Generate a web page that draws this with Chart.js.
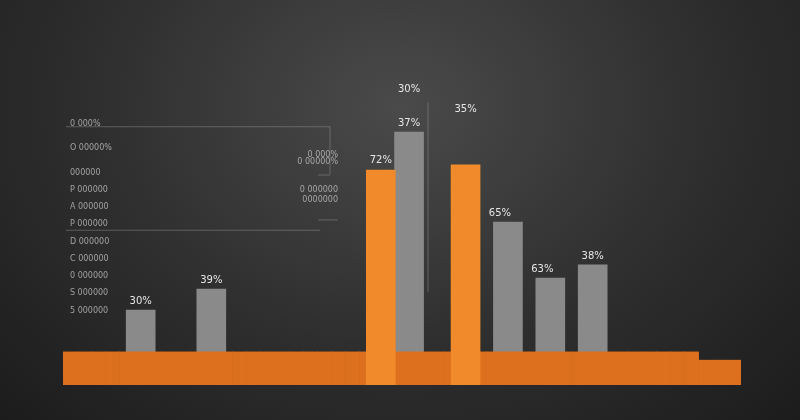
<!DOCTYPE html><html><head><meta charset="utf-8">
<script src="https://cdn.jsdelivr.net/npm/chart.js@4/dist/chart.umd.min.js"></script>
<style>html,body{margin:0;padding:0;width:800px;height:420px;overflow:hidden;background:radial-gradient(ellipse at 50% 25%,#4a4a4a 0%,#2e2e2e 55%,#1c1c1c 100%);}#w{position:absolute;left:0;top:0;width:800px;height:420px}</style>
</head><body><div id="w"><canvas id="c" width="800" height="420"></canvas></div>
<script>
const slots = Array.from({length:48},(_,i)=>'');
const baseValues = Array.from({length:48},(_,i)=> i>=45 ? 7.2 : 9.6);
const grayIdx = [5,10,24,31,34,37];
const grayVals = [21.7,27.8,73.3,47.2,31,34.8];
const grayLabels = ['30%','39%','37%','65%','63%','38%'];
const orangeIdx = [22,28];
const orangeVals = [62.3,63.8];
const orangeLabels = ['72%','35%'];
const topLabels = [{i:24,v:85,t:'30%'},{i:28,v:79,t:'35%'}];
const leftLabels = ['0 000%','O 00000%','000000','P 000000','A 000000','P 000000','D 000000','C 000000','0 000000','S 000000','5 000000'];
const leftVals = [75,68,61,56,51,46,41,36,31,26,21];

function spread(idx,vals){const a=Array(48).fill(null);idx.forEach((k,j)=>a[k]=vals[j]);return a;}
const grayData=spread(grayIdx,grayVals), orangeData=spread(orangeIdx,orangeVals);

const deco={id:'deco',
 beforeDatasetsDraw(ch){const c=ch.ctx,y=ch.scales.y,x=ch.scales.x;c.save();
  c.strokeStyle='rgba(150,150,150,0.45)';c.lineWidth=1;
  [[75,66,330],[45,66,320],[61,318,330],[48,318,338]].forEach(([v,a,b])=>{c.beginPath();c.moveTo(a,y.getPixelForValue(v)+.5);c.lineTo(b,y.getPixelForValue(v)+.5);c.stroke();});
  c.beginPath();c.moveTo(330,y.getPixelForValue(75));c.lineTo(330,y.getPixelForValue(61));c.stroke();
  c.beginPath();c.moveTo(428,y.getPixelForValue(82));c.lineTo(428,y.getPixelForValue(27));c.stroke();
  c.fillStyle='rgba(200,200,200,0.75)';c.font='8px "DejaVu Sans"';c.textAlign='left';
  leftLabels.forEach((t,k)=>c.fillText(t,70,y.getPixelForValue(leftVals[k])));
  c.textAlign='right';c.fillText('0 000%',338,y.getPixelForValue(66));c.fillText('0 00000%',338,y.getPixelForValue(64));
  c.fillText('0 000000',338,y.getPixelForValue(56));c.fillText('0000000',338,y.getPixelForValue(53));
  c.restore();},
 afterDatasetsDraw(ch){const c=ch.ctx,y=ch.scales.y,x=ch.scales.x;c.save();c.fillStyle='#e6e6e6';c.font='10px "DejaVu Sans"';c.textAlign='center';
  grayIdx.forEach((k,j)=>c.fillText(grayLabels[j],x.getPixelForValue(k)+(j==3||j==4?-8:0),y.getPixelForValue(grayVals[j])-6));
  c.fillText(orangeLabels[0],x.getPixelForValue(orangeIdx[0]),y.getPixelForValue(orangeVals[0]+2));
  topLabels.forEach(o=>c.fillText(o.t,x.getPixelForValue(o.i),y.getPixelForValue(o.v)));
  c.restore();}};

new Chart(document.getElementById('c'),{type:'bar',
 data:{labels:slots,datasets:[
  {data:baseValues,backgroundColor:'#dc701f',borderWidth:0,barPercentage:1,categoryPercentage:1,order:1},
  {data:grayData,backgroundColor:'#8a8a8a',barThickness:29,order:2},
  {data:orangeData,backgroundColor:'#f08a2a',barThickness:29,order:0}]},
 options:{responsive:false,animation:false,devicePixelRatio:1,
  layout:{padding:{left:63,right:59,top:40,bottom:35}},
  plugins:{legend:{display:false},tooltip:{enabled:false}},
  scales:{x:{stacked:true,display:false},y:{display:false,min:0,max:100}}},
 plugins:[deco]});
</script></body></html>
